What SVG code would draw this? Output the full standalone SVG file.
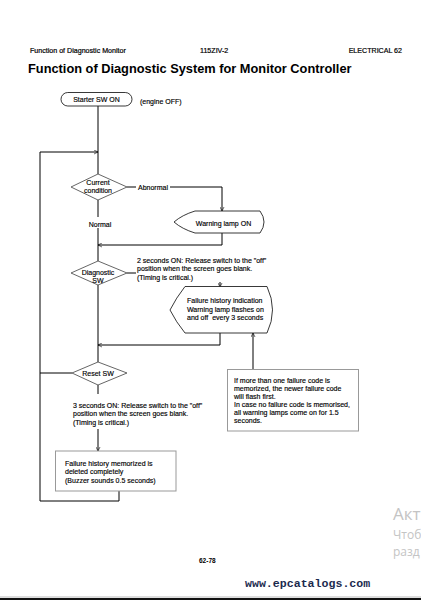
<svg xmlns="http://www.w3.org/2000/svg" width="421" height="600" viewBox="0 0 421 600">
<style>
  text { font-family: "Liberation Sans", Arial, sans-serif; fill: #000; }
  .s { font-size: 7px; stroke: #000; stroke-width: 0.15; }
  .hd { font-size: 7.1px; stroke: #000; stroke-width: 0.2; }
  .c { text-anchor: middle; }
  .shape { fill: #fff; stroke: #222; stroke-width: 0.9; }
  .dia { fill: #fff; stroke: #555; stroke-width: 0.9; }
  .box { fill: #fff; stroke: #999; stroke-width: 1; }
  .ln { fill: none; stroke: #000; stroke-width: 1; }
  .wm { font-family: "Open Sans", "DejaVu Sans", sans-serif; fill: #c4c4c4; }
</style>
<defs>
  <marker id="arr" viewBox="0 0 10 10" refX="9" refY="5" markerWidth="5" markerHeight="5" orient="auto" markerUnits="userSpaceOnUse">
    <path d="M1,1 L9,5 L1,9" fill="none" stroke="#000" stroke-width="1.2"/>
  </marker>
</defs>
<rect width="421" height="600" fill="#fff"/>

<g id="header">
  <text class="hd" x="30" y="53">Function of Diagnostic Monitor</text>
  <text class="hd" x="200" y="53">115ZIV-2</text>
  <text class="hd" x="402" y="53" text-anchor="end">ELECTRICAL 62</text>
  <text x="28" y="73" font-size="12.8" font-weight="bold">Function of Diagnostic System for Monitor Controller</text>
</g>

<g id="connectors">
  <line class="ln" x1="98" y1="106" x2="98" y2="174"/>
  <line class="ln" x1="40" y1="152" x2="98" y2="152" marker-end="url(#arr)"/>
  <polyline class="ln" points="127,187 222,187 222,211" marker-end="url(#arr)"/>
  <polyline class="ln" points="222,233 222,245 98,245" marker-end="url(#arr)"/>
  <line class="ln" x1="98" y1="200" x2="98" y2="217"/>
  <line class="ln" x1="98" y1="228" x2="98" y2="261" />
  <line class="ln" x1="127" y1="273" x2="136" y2="273"/>
  <line class="ln" x1="220" y1="282" x2="220" y2="287" marker-end="url(#arr)"/>
  <line class="ln" x1="98" y1="285" x2="98" y2="362"/>
  <polyline class="ln" points="220,333 220,345 98,345" marker-end="url(#arr)"/>
  <line class="ln" x1="253" y1="369" x2="253" y2="333" marker-end="url(#arr)"/>
  <polyline class="ln" points="72,373 40,373"/>
  <polyline class="ln" points="40,152 40,501 119,501 119,491"/>
  <line class="ln" x1="98" y1="385" x2="98" y2="394"/>
  <line class="ln" x1="98" y1="429" x2="98" y2="451" marker-end="url(#arr)"/>
</g>

<g id="start">
  <rect class="shape" x="61" y="92.5" width="71" height="13.5" rx="6.75"/>
  <text class="s c" x="96.5" y="101.5">Starter SW ON</text>
  <text class="s" x="140" y="103.5">(engine OFF)</text>
</g>

<g id="current-condition">
  <polygon class="dia" points="98,174 127,187 98,200 71,187"/>
  <text class="s c" x="98" y="185">Current</text>
  <text class="s c" x="98" y="193">condition</text>
</g>

<g id="abnormal-label">
  <rect x="136" y="182" width="34" height="9" fill="#fff"/>
  <text class="s" x="138" y="189.5">Abnormal</text>
</g>

<g id="normal-label">
  <text class="s c" x="100" y="226.5">Normal</text>
</g>

<g id="warning-lamp">
  <path class="shape" d="M195,211 L260,211 Q268,222 260,233 L195,233 Q182,229 174,222 Q182,215 195,211 Z"/>
  <text class="s c" x="223.5" y="225.5">Warning lamp ON</text>
</g>

<g id="diagnostic-sw">
  <polygon class="dia" points="98,261 127,273 98,285 71,273"/>
  <text class="s c" x="98" y="274.5">Diagnostic</text>
  <text class="s c" x="98" y="282.5">SW</text>
</g>

<g id="diag-note">
  <text class="s" x="137" y="262.5">2 seconds ON: Release switch to the "off"</text>
  <text class="s" x="137" y="271">position when the screen goes blank.</text>
  <text class="s" x="137" y="279.5">(Timing is critical.)</text>
</g>

<g id="failure-history">
  <path class="shape" d="M185,286.5 L267,286.5 Q278,310 267,333 L185,333 Q176,322 170,310 Q176,298 185,286.5 Z"/>
  <text class="s" x="187" y="303">Failure history indication</text>
  <text class="s" x="187" y="311.5">Warning lamp flashes on</text>
  <text class="s" x="187" y="320">and off&#160; every 3 seconds</text>
</g>

<g id="failure-note">
  <rect class="box" x="227.5" y="369.5" width="131" height="61.5"/>
  <text class="s" x="234" y="382.5">If more than one failure code is</text>
  <text class="s" x="234" y="390.5">memorized, the newer failure code</text>
  <text class="s" x="234" y="398.5">will flash first.</text>
  <text class="s" x="234" y="406.5">In case no failure code is memorised,</text>
  <text class="s" x="234" y="414.5">all warning lamps come on for 1.5</text>
  <text class="s" x="234" y="422.5">seconds.</text>
</g>

<g id="reset-sw">
  <polygon class="dia" points="98,362 127,373 98,385 72,373"/>
  <text class="s c" x="98" y="375.5">Reset SW</text>
</g>

<g id="reset-note">
  <text class="s" x="73" y="407.5">3 seconds ON: Release switch to the "off"</text>
  <text class="s" x="73" y="416">position when the screen goes blank.</text>
  <text class="s" x="73" y="424.5">(Timing is critical.)</text>
</g>

<g id="deleted">
  <rect class="box" x="55.5" y="451" width="120.5" height="40"/>
  <text class="s" x="65" y="465.5">Failure history memorized is</text>
  <text class="s" x="65" y="474">deleted completely</text>
  <text class="s" x="65" y="482.5">(Buzzer sounds 0.5 seconds)</text>
</g>

<g id="footer">
  <text x="199" y="562.5" font-size="6.5" font-weight="bold">62-78</text>
  <text x="245" y="587" font-size="11.6" font-weight="bold" style="fill:#1b2a4e; font-family:'Liberation Mono', 'DejaVu Sans Mono', monospace;">www.epcatalogs.com</text>
  <text class="wm" x="393" y="520" font-size="17">Акт</text>
  <text class="wm" x="393" y="539" font-size="12">Чтоб</text>
  <text class="wm" x="393" y="556" font-size="12">разд</text>
  <line x1="0" y1="597" x2="421" y2="597" stroke="#bbb" stroke-width="1"/>
  <rect x="0" y="598" width="421" height="2" fill="#111"/>
</g>
</svg>
